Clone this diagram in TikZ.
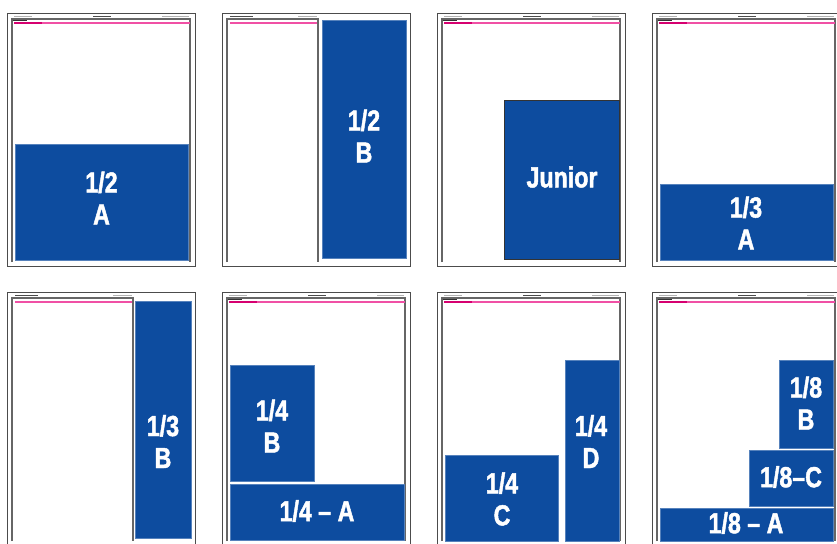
\documentclass[tikz,border=0pt]{standalone}
\usepackage{fontspec}
\usepackage{xcolor}
\usepackage{tikz}
\usetikzlibrary{positioning}
\newfontfamily\adfont{Liberation Sans}[FakeStretch=0.8, Ligatures=TeX, BoldFeatures={FakeBold=1.6}]

\definecolor{adblue}{RGB}{13,76,159}
\definecolor{ruledark}{RGB}{214,0,112}
\definecolor{rulelight}{RGB}{240,80,165}

% 整页（带页眉）
\newcommand{\adpage}[2]{%
  \begin{scope}[shift={(#1,#2)}]
    \draw[outerframe] (0,0) rectangle (188,253);
    \draw[innerframe] (5,249) -- (5,6) -- (183,6) -- (183,249);
    \draw[rulelightline] (7,10) -- (183,10);
    \draw[ruledarkline] (7,10) -- (35,10);
    \draw[sectiontag] (6,7.5) -- (20,7.5);
    \draw[headtext] (7,3.5) -- (25,3.5);
    \draw[headtext, draw=black!70] (86,3.5) -- (104,3.5);
    \draw[headtext] (155,3.5) -- (182,3.5);
  \end{scope}}

% 半页（左栏 + 右侧竖栏）
\newcommand{\adsplitpage}[3]{%
  \begin{scope}[shift={(#1,#2)}]
    \draw[outerframe] (0,0) rectangle (188,253);
    \draw[innerframe] (5,249) -- (5,6) -- (#3,6) -- (#3,249);
    \draw[rulelightline] (8,10) -- (#3-1,10);
    \draw[headtext, draw=black!70] (8,3.5) -- (31,3.5);
    \draw[headtext] (#3-20,3.5) -- (#3-1,3.5);
  \end{scope}}

\begin{document}
\begin{tikzpicture}[
    x=1pt, y=-1pt,
    % 页面边框
    outerframe/.style={draw=black!70, line width=0.9pt},
    innerframe/.style={draw=black!60, line width=1.4pt},
    rulelightline/.style={draw=rulelight, line width=1.5pt},
    ruledarkline/.style={draw=ruledark, line width=1.5pt},
    sectiontag/.style={draw=black!80, line width=1.6pt},
    headtext/.style={draw=black!30, line width=1.1pt},
    % 广告位
    adblock/.style={fill=adblue, draw=adblue!70!white, line width=0.5pt},
    junior/.style={fill=adblue, draw=black!80, line width=0.8pt},
    adtext/.style={text=white, font=\adfont\bfseries\fontsize{29}{32}\selectfont, align=center, inner sep=0pt}
]
\useasboundingbox (0,0) rectangle (837,543);
\fill[white] (0,0) rectangle (837,543);

% 第一行
\adpage{7}{13}
\adsplitpage{222}{13}{96}
\adpage{437}{13}
\adpage{652}{13}

% 第二行
\adsplitpage{7}{292}{126}
\adpage{222}{292}
\adpage{437}{292}
\adpage{652}{292}

% 1/2 A
\path[adblock] (15,144) rectangle (188,260);
\node[adtext] (half a) at (101.5,198) {1/2\\A};

% 1/2 B
\path[adblock] (322,20) rectangle (406,258);
\node[adtext] (half b) at (364,136) {1/2\\B};

% Junior
\path[junior] (504,100) rectangle (619,259);
\node[adtext] (junior) at (562,177) {Junior};

% 1/3 A
\path[adblock] (660,184) rectangle (833,260);
\node[adtext] (third a) at (746,223) {1/3\\A};

% 1/3 B
\path[adblock] (135,301) rectangle (191,538);
\node[adtext] (third b) at (163,441.5) {1/3\\B};

% 1/4 B / 1/4 A
\path[adblock] (230,365) rectangle (314,481);
\node[adtext] (quarter b) at (272,426) {1/4\\B};
\path[adblock] (230,484) rectangle (404,540);
\node[adtext] (quarter a) at (317,511) {1/4 \textendash{} A};

% 1/4 C / 1/4 D
\path[adblock] (445,455) rectangle (558,541);
\node[adtext] (quarter c) at (502,499) {1/4\\C};
\path[adblock] (565,360) rectangle (619,541);
\node[adtext] (quarter d) at (591,441.5) {1/4\\D};

% 1/8 B / 1/8-C / 1/8 A
\path[adblock] (779,360) rectangle (833,448);
\node[adtext] (eighth b) at (806,403) {1/8\\B};
\path[adblock] (749,450) rectangle (833,506);
\node[adtext] (eighth c) at (791,477) {1/8\textendash C};
\path[adblock] (660,508) rectangle (833,541);
\node[adtext] (eighth a) at (746,523) {1/8 \textendash{} A};

\end{tikzpicture}
\end{document}
